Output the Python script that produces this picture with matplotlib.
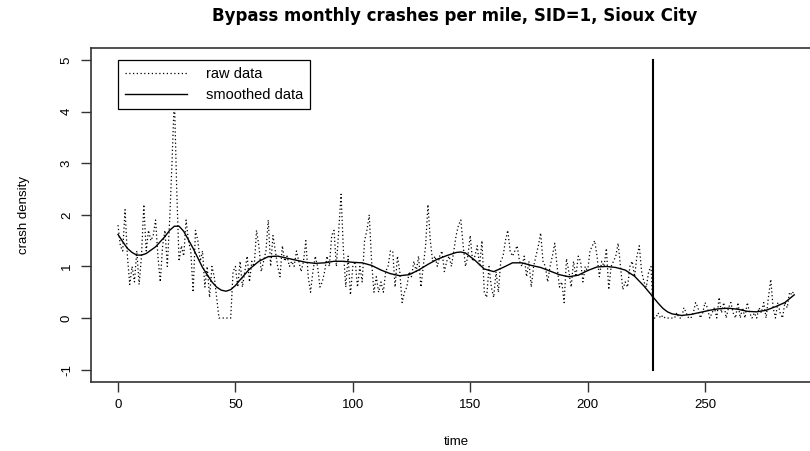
import numpy as np
import matplotlib.pyplot as plt
from matplotlib.lines import Line2D

# monthly raw crash density, months 0..288
raw = [
    1.8, 1.4, 1.3, 2.1, 1.2, 0.65, 1.0, 0.7, 1.3, 0.65, 1.2, 2.2,
    1.3, 1.7, 1.5, 1.6, 1.9, 1.2, 0.7, 1.4, 1.7, 1.0, 1.9, 3.0,
    4.3, 2.5, 1.1, 1.4, 1.2, 1.9, 1.5, 1.3, 0.5, 1.7, 1.5, 1.1,
    1.3, 0.6, 1.0, 0.4, 1.0, 0.8, 0.4, 0.0, 0.0, 0.0, 0.0, 0.0,
    0.0, 0.9, 1.0, 0.6, 1.1, 0.6, 0.9, 1.2, 0.7, 1.1, 1.0, 1.7,
    1.4, 0.9, 1.1, 1.3, 1.9, 1.0, 1.6, 1.3, 1.0, 0.8, 1.4, 1.1,
    1.2, 1.0, 1.1, 1.0, 1.3, 1.1, 0.9, 1.1, 1.5, 0.8, 0.5, 0.9,
    1.2, 1.0, 0.6, 0.7, 0.9, 1.2, 1.0, 1.6, 1.7, 1.0, 1.7, 2.4,
    1.3, 0.6, 1.2, 0.45, 1.0, 1.1, 0.6, 1.0, 0.7, 1.5, 1.7, 2.0,
    1.1, 0.5, 0.8, 0.5, 0.7, 0.5, 0.9, 1.0, 1.3, 1.3, 0.6, 1.2,
    0.9, 0.3, 0.5, 0.6, 0.9, 0.8, 1.1, 0.9, 1.2, 0.6, 1.0, 1.4,
    2.2, 1.5, 1.1, 1.2, 1.0, 1.2, 1.3, 0.9, 1.1, 1.2, 1.0, 1.3,
    1.6, 1.8, 1.9, 1.4, 1.0, 1.2, 1.6, 1.1, 1.2, 1.4, 1.0, 1.5,
    0.5, 0.4, 1.0, 0.6, 0.4, 0.9, 0.5, 1.1, 1.2, 1.5, 1.7, 1.3,
    1.2, 1.3, 1.4, 1.1, 1.0, 1.2, 0.8, 1.1, 0.6, 1.0, 1.2, 1.4,
    1.65, 1.1, 1.0, 0.7, 1.0, 1.2, 1.45, 1.0, 0.6, 0.7, 0.3, 1.15,
    0.9, 0.6, 1.1, 0.8, 1.2, 1.1, 0.7, 1.0, 0.9, 1.3, 1.4, 1.5,
    1.2, 0.8, 1.1, 1.0, 1.35, 0.55, 1.0, 1.1, 1.2, 1.45, 1.0, 0.55,
    0.7, 0.6, 1.0, 1.1, 0.8, 1.2, 1.4, 0.9, 0.7, 0.6, 0.9, 1.0,
    0.0, 0.0, 0.1, 0.0, 0.05, 0.0, 0.0, 0.0, 0.0, 0.0, 0.1, 0.0,
    0.0, 0.2, 0.1, 0.0, 0.0, 0.1, 0.3, 0.2, 0.0, 0.1, 0.3, 0.2,
    0.0, 0.1, 0.2, 0.0, 0.4, 0.1, 0.3, 0.0, 0.2, 0.3, 0.1, 0.0,
    0.3, 0.0, 0.2, 0.0, 0.3, 0.1, 0.0, 0.1, 0.0, 0.2, 0.1, 0.3,
    0.0, 0.4, 0.75, 0.2, 0.0, 0.3, 0.1, 0.0, 0.3, 0.2, 0.5, 0.45,
    0.55,
]

# smoothed curve, read every 2-4 months
smooth_t = [0, 2, 4, 6, 8, 10, 12, 16, 20, 22, 24, 26, 28, 32, 36, 40, 42, 44,
            46, 48, 50, 52, 56, 60, 64, 68, 72, 76, 80, 84, 88, 92, 96, 100, 104,
            108, 112, 116, 120, 124, 128, 132, 136, 140, 144, 146, 148, 152, 156,
            160, 164, 168, 172, 176, 180, 184, 188, 192, 196, 200, 204, 208, 212,
            216, 220, 224, 226, 228, 230, 232, 234, 236, 240, 244, 248, 252, 256,
            260, 264, 268, 272, 276, 280, 284, 288]
smooth_v = [1.62, 1.48, 1.35, 1.27, 1.22, 1.22, 1.25, 1.38, 1.58, 1.7, 1.78, 1.78,
            1.68, 1.35, 0.98, 0.7, 0.6, 0.54, 0.52, 0.55, 0.63, 0.74, 0.95, 1.1,
            1.19, 1.2, 1.16, 1.12, 1.08, 1.06, 1.07, 1.1, 1.1, 1.08, 1.07, 1.02,
            0.93, 0.86, 0.82, 0.84, 0.93, 1.04, 1.14, 1.21, 1.27, 1.28, 1.26, 1.12,
            0.95, 0.9, 0.98, 1.07, 1.07, 1.02, 0.98, 0.91, 0.84, 0.8, 0.83, 0.92,
            0.99, 1.0, 0.98, 0.93, 0.81, 0.62, 0.51, 0.4, 0.29, 0.19, 0.12, 0.08,
            0.05, 0.07, 0.11, 0.15, 0.18, 0.19, 0.17, 0.13, 0.12, 0.15, 0.22, 0.3,
            0.45]

break_t = 228
xticks = [0, 50, 100, 150, 200, 250]
yticks = [-1, 0, 1, 2, 3, 4, 5]

plt.rcParams['font.family'] = ['Liberation Sans', 'DejaVu Sans']

W, H = 810, 451
fig = plt.figure(figsize=(W / 100, H / 100), dpi=100)
left, right, top, bottom = 90.95, 821.3, 47.7, 382.0
ax = fig.add_axes([left / W, (H - bottom) / H, (right - left) / W, (bottom - top) / H])

t = np.arange(len(raw))
ax.plot(t, raw, color='black', lw=0.9, linestyle=(0, (1, 2)))
ax.plot(smooth_t, smooth_v, color='black', lw=1.0)
ax.plot([break_t, break_t], [-1, 5], color='black', lw=1.5)

ax.set_xlim(-11.52, 299.52)
ax.set_ylim(-1.24, 5.24)
ax.set_xticks(xticks)
ax.set_yticks(yticks)
ax.set_xticklabels([str(v) for v in xticks], fontsize=9.5)
ax.set_yticklabels([str(v) for v in yticks], fontsize=9.5, rotation=90, va='center')
ax.tick_params(direction='out', length=7, width=1, color='#333333')
ax.tick_params(axis='x', pad=5)
ax.tick_params(axis='y', pad=6)
for s in ax.spines.values():
    s.set_color('#333333')
    s.set_linewidth(1.2)

ax.set_xlabel('time', fontsize=9.5, labelpad=18)
ax.set_ylabel('crash density', fontsize=9.5, labelpad=22)
fig.text(455 / W, 1 - 16 / H, 'Bypass monthly crashes per mile, SID=1, Sioux City',
         ha='center', va='center', fontsize=12, fontweight='bold',
         family=['DejaVu Sans'])

handles = [Line2D([], [], color='black', lw=0.9, linestyle=(0, (1, 2))),
           Line2D([], [], color='black', lw=1.0)]
leg = ax.legend(handles, ['raw data', 'smoothed data'], loc='upper left',
                bbox_to_anchor=((118 - left) / (right - left), 1 - (60 - top) / (bottom - top)),
                borderaxespad=0, fancybox=False, framealpha=1, edgecolor='black',
                fontsize=10.5, handlelength=4.2, handletextpad=1.3, borderpad=0.5,
                labelspacing=0.45)
leg.get_frame().set_linewidth(0.9)
leg.set_zorder(5)

fig.savefig('out.png', dpi=100)
